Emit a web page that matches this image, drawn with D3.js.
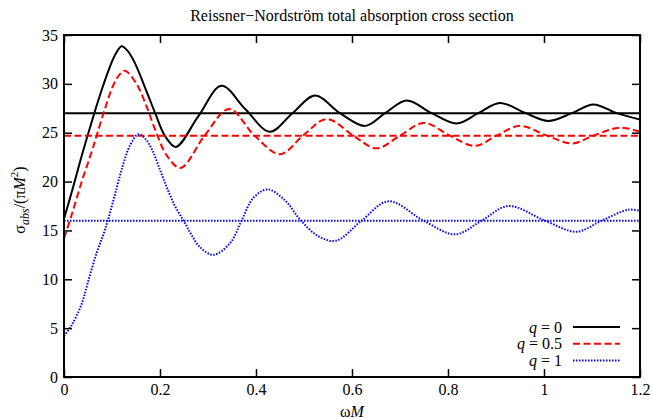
<!DOCTYPE html>
<html>
<head>
<meta charset="utf-8">
<script src="https://cdn.jsdelivr.net/npm/d3@7"></script>
<style>
  body { margin: 0; background: #fff; }
  svg { display: block; }
  svg text { font-family: "Liberation Serif", "Times New Roman", "DejaVu Serif", serif; fill: #000; }
</style>
</head>
<body>
<svg id="chart"></svg>
<script>
// values
const xTicks = [0, 0.2, 0.4, 0.6, 0.8, 1, 1.2];
const yTicks = [0, 5, 10, 15, 20, 25, 30, 35];

const omegaQ0 = [0, 0.016, 0.035, 0.05, 0.065, 0.08, 0.096, 0.108, 0.12, 0.133, 0.148, 0.169, 0.19, 0.21, 0.233, 0.28, 0.328, 0.378, 0.429, 0.476, 0.523, 0.575, 0.627, 0.669, 0.714, 0.766, 0.818, 0.863, 0.908, 0.962, 1.009, 1.058, 1.103, 1.151, 1.2];
const sigmaQ0 = [16.2, 18.9, 22.3, 24.85, 27.3, 29.6, 31.8, 33.1, 33.85, 33.35, 32.1, 29.6, 27.0, 24.7, 23.55, 26.7, 29.8, 27.4, 25.1, 27.0, 28.8, 27.0, 25.7, 27.0, 28.3, 27.0, 25.95, 27.0, 28.05, 27.0, 26.2, 27.0, 27.9, 27.0, 26.35];

const omegaQ05 = [0, 0.016, 0.037, 0.058, 0.068, 0.085, 0.103, 0.115, 0.127, 0.151, 0.172, 0.19, 0.215, 0.243, 0.293, 0.344, 0.397, 0.45, 0.498, 0.547, 0.603, 0.651, 0.70, 0.75, 0.804, 0.856, 0.901, 0.95, 1.006, 1.058, 1.103, 1.158, 1.2];
const sigmaQ05 = [14.2, 16.6, 20.0, 23.1, 24.7, 27.4, 29.9, 30.9, 31.35, 30.0, 27.7, 25.3, 22.6, 21.4, 24.7, 27.43, 24.7, 22.8, 24.7, 26.4, 24.7, 23.4, 24.7, 26.0, 24.7, 23.65, 24.7, 25.7, 24.7, 23.9, 24.7, 25.52, 25.1];

const omegaQ1 = [0, 0.016, 0.037, 0.051, 0.068, 0.085, 0.103, 0.12, 0.1375, 0.155, 0.17, 0.185, 0.2, 0.215, 0.23, 0.249, 0.265, 0.283, 0.311, 0.346, 0.37, 0.394, 0.424, 0.46, 0.492, 0.53, 0.567, 0.62, 0.676, 0.749, 0.815, 0.87, 0.926, 1.002, 1.068, 1.12, 1.176, 1.2];
const sigmaQ1 = [4.2, 5.3, 7.5, 9.9, 12.7, 15.0, 18.1, 21.2, 23.7, 24.85, 24.35, 23.1, 21.2, 19.3, 17.6, 16.0, 14.6, 13.3, 12.5, 13.7, 16.0, 18.3, 19.2, 18.1, 16.1, 14.4, 13.95, 16.0, 17.98, 16.0, 14.6, 16.0, 17.5, 16.0, 14.87, 16.0, 17.12, 17.0];

// high-frequency (geometric) limits
const limitValues = [27, 24.7, 16];

const width = 652;
const height = 419;
const margin = { top: 35, right: 12, bottom: 42, left: 64 };

const svg = d3.select('#chart')
    .attr('width', width)
    .attr('height', height);

const x = d3.scaleLinear()
    .domain([0, 1.2])
    .range([margin.left, width - margin.right]);

const y = d3.scaleLinear()
    .domain([0, 35])
    .range([height - margin.bottom, margin.top]);

const series = [
    { q: '0', omega: omegaQ0, sigma: sigmaQ0, limit: limitValues[0], color: '#000', dash: null },
    { q: '0.5', omega: omegaQ05, sigma: sigmaQ05, limit: limitValues[1], color: '#ff0000', dash: '7,3.5' },
    { q: '1', omega: omegaQ1, sigma: sigmaQ1, limit: limitValues[2], color: '#0000ff', dash: '1.5,1.5' }
];

svg.append('clipPath').attr('id', 'plotClip')
    .append('rect')
    .attr('x', x(0)).attr('y', y(35))
    .attr('width', x(1.2) - x(0)).attr('height', y(0) - y(35));

const line = d3.line()
    .x(d => x(d[0]))
    .y(d => y(d[1]))
    .curve(d3.curveCatmullRom.alpha(0.5));

const plot = svg.append('g').attr('clip-path', 'url(#plotClip)');

series.forEach(s => {
    plot.append('line')
        .attr('x1', x(0)).attr('x2', x(1.2))
        .attr('y1', y(s.limit)).attr('y2', y(s.limit))
        .attr('stroke', s.color)
        .attr('stroke-width', 2)
        .attr('stroke-dasharray', s.dash);

    plot.append('path')
        .datum(s.omega.map((w, i) => [w, s.sigma[i]]))
        .attr('fill', 'none')
        .attr('stroke', s.color)
        .attr('stroke-width', 2)
        .attr('stroke-dasharray', s.dash)
        .attr('d', line);
});

// axes with inward ticks on all four sides
const tickLen = 8;
const axisBottom = d3.axisBottom(x).tickValues(xTicks).tickSize(-tickLen).tickPadding(7).tickFormat(d3.format('~g'));
const axisTop = d3.axisTop(x).tickValues(xTicks).tickSize(-tickLen).tickFormat('');
const axisLeft = d3.axisLeft(y).tickValues(yTicks).tickSize(-tickLen).tickPadding(6);
const axisRight = d3.axisRight(y).tickValues(yTicks).tickSize(-tickLen).tickFormat('');

function styleAxis(g) {
    g.attr('font-family', null);
    g.select('.domain').remove();
    g.selectAll('.tick line').attr('stroke', '#000').attr('stroke-width', 1.5);
    g.selectAll('.tick text')
        .attr('fill', '#000')
        .style('font-size', '16px');
}

svg.append('g').attr('transform', `translate(0,${y(0)})`).call(axisBottom).call(styleAxis);
svg.append('g').attr('transform', `translate(0,${y(35)})`).call(axisTop).call(styleAxis);
svg.append('g').attr('transform', `translate(${x(0)},0)`).call(axisLeft).call(styleAxis);
svg.append('g').attr('transform', `translate(${x(1.2)},0)`).call(axisRight).call(styleAxis);

svg.append('rect')
    .attr('x', x(0)).attr('y', y(35))
    .attr('width', x(1.2) - x(0)).attr('height', y(0) - y(35))
    .attr('fill', 'none')
    .attr('stroke', '#000')
    .attr('stroke-width', 2);

// title and axis labels
svg.append('text')
    .attr('x', 352).attr('y', 21)
    .attr('text-anchor', 'middle')
    .style('font-size', '16px')
    .text('Reissner\u2212Nordstr\u00f6m total absorption cross section');

svg.append('text')
    .attr('x', 352).attr('y', 417)
    .attr('text-anchor', 'middle')
    .style('font-size', '16px')
    .html('\u03c9<tspan font-style="italic">M</tspan>');

svg.append('text')
    .attr('transform', `translate(25,200) rotate(-90)`)
    .attr('text-anchor', 'middle')
    .style('font-size', '16px')
    .html('\u03c3<tspan font-style="italic" font-size="12px" dy="4">abs</tspan><tspan dy="-4">/(\u03c0</tspan><tspan font-style="italic">M</tspan><tspan font-size="11px" dy="-7">2</tspan><tspan dy="7">)</tspan>');

// legend
const legend = svg.append('g');
series.forEach((s, i) => {
    const ly = 327 + i * 16.7;
    legend.append('line')
        .attr('x1', 573).attr('x2', 620)
        .attr('y1', ly).attr('y2', ly)
        .attr('stroke', s.color)
        .attr('stroke-width', 2)
        .attr('stroke-dasharray', s.dash);
    legend.append('text')
        .attr('x', 562).attr('y', ly + 5.5)
        .attr('text-anchor', 'end')
        .style('font-size', '16px')
        .html(`<tspan font-style="italic">q</tspan> = ${s.q}`);
});
</script>
</body>
</html>
